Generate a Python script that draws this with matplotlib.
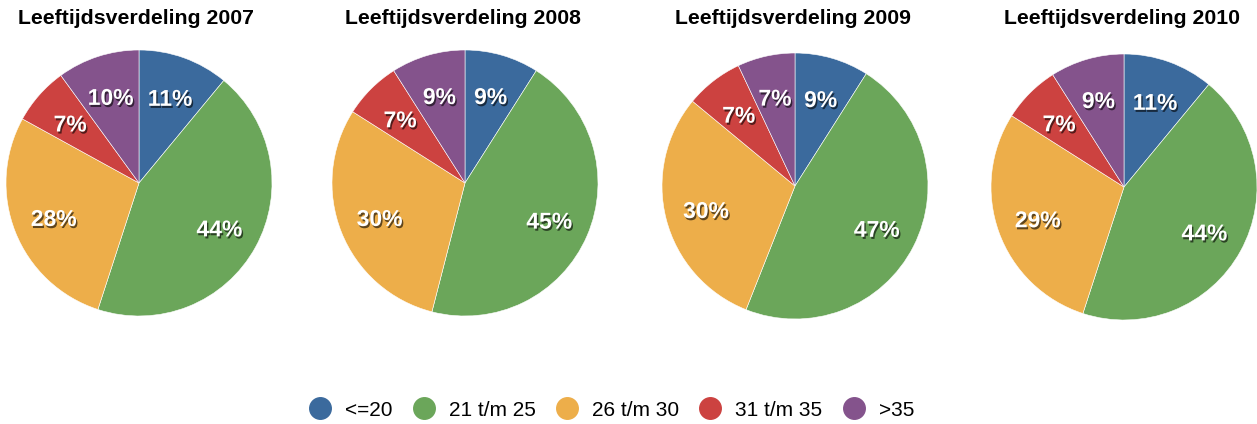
import matplotlib.pyplot as plt
import matplotlib.patheffects as pe
from matplotlib.lines import Line2D

plt.rcParams['font.family'] = ['Liberation Sans', 'DejaVu Sans']

# leeftijdsgroepen en percentages per jaar
groepen = ['<=20', '21 t/m 25', '26 t/m 30', '31 t/m 35', '>35']
kleuren = ['#3b6a9d', '#6ba65a', '#edae4a', '#cc4240', '#84538c']
jaren = ['2007', '2008', '2009', '2010']
v2007 = [11, 44, 28, 7, 10]
v2008 = [9, 45, 30, 7, 9]
v2009 = [9, 47, 30, 7, 7]
v2010 = [11, 44, 29, 7, 9]
waarden = [v2007, v2008, v2009, v2010]

W, H = 1257, 424
fig = plt.figure(figsize=(W / 100, H / 100), dpi=100)

# middelpunten (pixels) en straal
centra = [(139, 183), (465, 183), (795, 186), (1124, 187)]
straal = 133
titel_x = [136, 463, 793, 1122]

schaduw = [pe.withSimplePatchShadow(offset=(1, -1.5), shadow_rgbFace='black', alpha=0.6)]

for i, jaar in enumerate(jaren):
    cx, cy = centra[i]
    ax = fig.add_axes([(cx - straal) / W, 1 - (cy + straal) / H, 2 * straal / W, 2 * straal / H])
    wedges, teksten, pcts = ax.pie(waarden[i], colors=kleuren, startangle=90, counterclock=False,
                                   autopct='%d%%', pctdistance=0.69,
                                   wedgeprops=dict(linewidth=0.4, edgecolor='white'))
    for t in pcts:
        t.set_color('white')
        t.set_fontsize(16.5)
        t.set_fontweight('bold')
        t.set_path_effects(schaduw)
        x, y = t.get_position()
        t.set_position((x, y - 0.02))
    ax.set_xlim(-1, 1)
    ax.set_ylim(-1, 1)
    ax.set_aspect('equal')
    fig.text(titel_x[i] / W, 1 - 18 / H, 'Leeftijdsverdeling ' + jaar, ha='center', va='center',
             fontsize=15.3, fontweight='bold')

handles = [Line2D([], [], marker='o', linestyle='none', markersize=15.5, color=k) for k in kleuren]
fig.legend(handles, groepen, loc='center', bbox_to_anchor=(612 / W, 1 - 410 / H), ncol=5,
           frameon=False, fontsize=15, handlelength=1.0, handletextpad=0.7, columnspacing=1.0)

fig.savefig('out.png', dpi=100)
